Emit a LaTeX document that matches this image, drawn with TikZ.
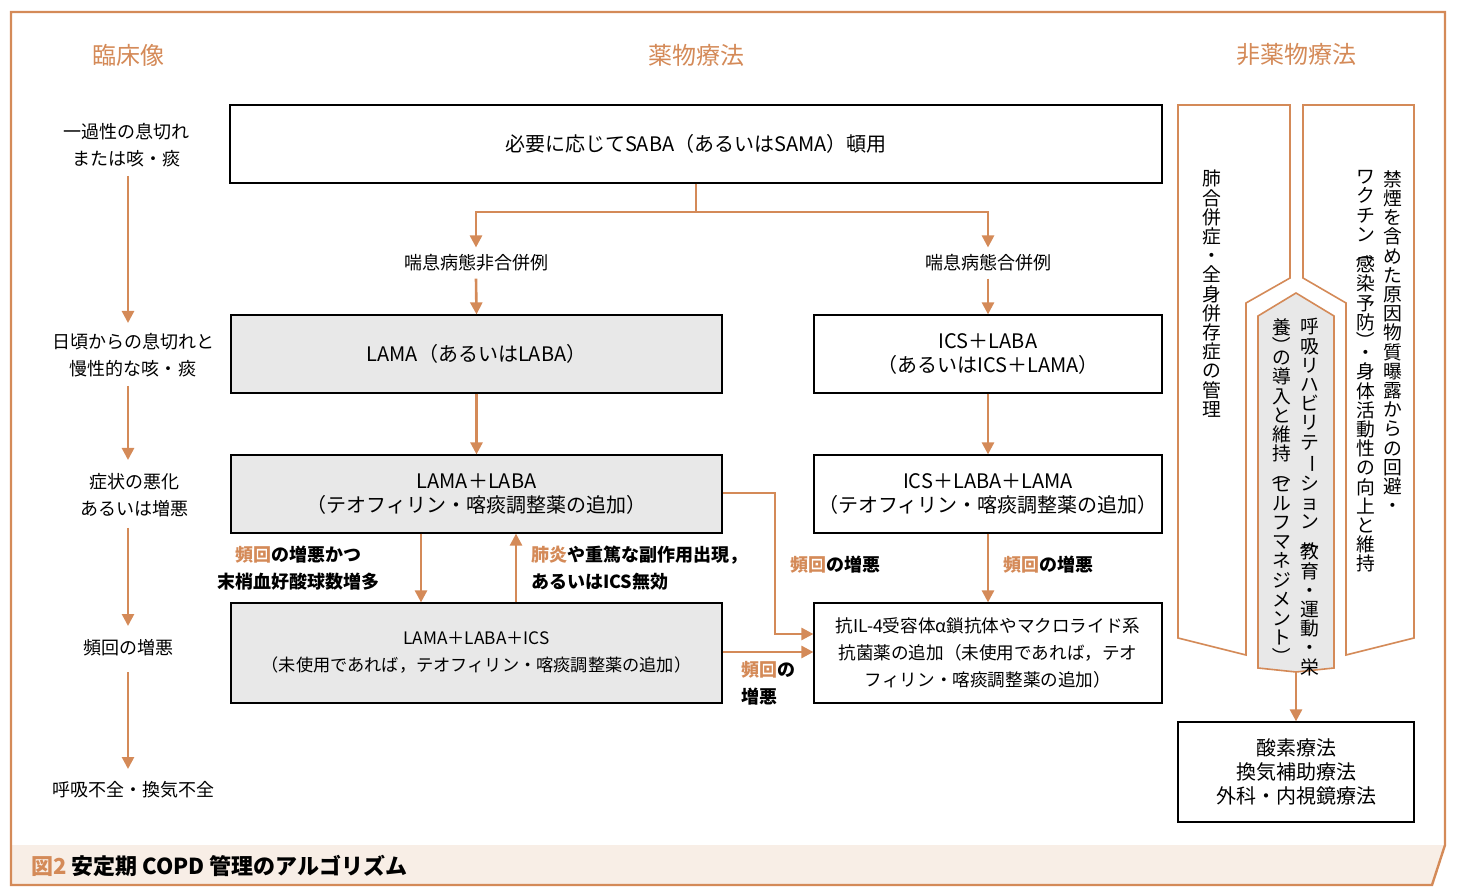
\documentclass[tikz,border=0pt]{standalone}
\usepackage{fontspec}
\setmainfont{Noto Sans CJK JP}
\usetikzlibrary{arrows.meta,positioning}
\definecolor{copdor}{RGB}{212,138,88}
\definecolor{copdgr}{RGB}{232,232,232}
\definecolor{copdbg}{RGB}{248,238,230}
\newcommand\vrot[1]{\rotatebox[origin=c]{-90}{#1}}
\tikzset{
  box/.style={draw=black,line width=0.6pt,align=center,inner sep=0pt},
  gbox/.style={box,fill=copdgr},
  flow/.style={draw=copdor,line width=1.3pt,-{Triangle[length=6pt,width=6pt]}},
  lbl/.style={align=center,font=\fontsize{9}{13.5}\selectfont},
  hot/.style={font=\bfseries\fontsize{9}{13.5}\selectfont,align=center},
  head/.style={text=copdor,font=\fontsize{12}{14}\selectfont},
  vtxt/.style={anchor=north,align=center,inner sep=0pt,font=\fontsize{9.4}{9.6}\selectfont},
}
\begin{document}
\begin{tikzpicture}[x=0.5pt,y=-0.5pt]
\useasboundingbox (0,0) rectangle (1461,892);
% frame and caption band
\fill[copdbg] (11,845) -- (1445,845) -- (1432,885) -- (11,885) -- cycle;
\draw[copdor,line width=1.2pt] (11,12) -- (1445,12) -- (1445,845) -- (1432,885) -- (11,885) -- cycle;
\node[anchor=west,font=\bfseries\fontsize{11}{13}\selectfont] (cap) at (24,866) {\textcolor{copdor}{図2} 安定期 COPD 管理のアルゴリズム};
% headings
\node[head] (h1) at (128,55) {臨床像};
\node[head] (h2) at (696,55) {薬物療法};
\node[head] (h3) at (1296,55) {非薬物療法};
% clinical column
\node[lbl] (c1) at (126,145) {一過性の息切れ\\または咳・痰};
\node[lbl] (c2) at (133,355) {日頃からの息切れと\\慢性的な咳・痰};
\node[lbl] (c3) at (134,495) {症状の悪化\\あるいは増悪};
\node[lbl] (c4) at (128,648) {頻回の増悪};
\node[lbl] (c5) at (133,790) {呼吸不全・換気不全};
\draw[flow] (128,176) -- (128,323);
\draw[flow] (128,386) -- (128,460);
\draw[flow] (128,528) -- (128,626);
\draw[flow] (128,672) -- (128,769);
% drug therapy boxes
\node[box,minimum width=466,minimum height=39] (saba) at (696,144) {必要に応じてSABA（あるいはSAMA）頓用};
\node[gbox,minimum width=245.5,minimum height=39] (lama) at (476.5,354) {LAMA（あるいはLABA）};
\node[box,minimum width=174,minimum height=39] (ics) at (988,354) {ICS＋LABA\\（あるいはICS＋LAMA）};
\node[gbox,minimum width=245.5,minimum height=39] (ll) at (476.5,494) {LAMA＋LABA\\（テオフィリン・喀痰調整薬の追加）};
\node[box,minimum width=174,minimum height=39] (ilt) at (988,494) {ICS＋LABA＋LAMA\\（テオフィリン・喀痰調整薬の追加）};
\node[gbox,minimum width=245.5,minimum height=50,font=\fontsize{8.6}{13.5}\selectfont] (lli) at (476.5,653) {LAMA＋LABA＋ICS\\（未使用であれば，テオフィリン・喀痰調整薬の追加）};
\node[box,minimum width=174,minimum height=50,font=\fontsize{8.8}{13.5}\selectfont] (il4) at (988,653) {抗IL-4受容体α鎖抗体やマクロライド系\\抗菌薬の追加（未使用であれば，テオ\\フィリン・喀痰調整薬の追加）};
\node[lbl] (ws1) at (476,263) {喘息病態非合併例};
\node[lbl] (ws2) at (988,263) {喘息病態合併例};
\coordinate (sp) at (696,212);
\draw[draw=copdor,line width=1.3pt] (saba.south) -- (sp);
\draw[flow] (sp) -| (ws1.north);
\draw[flow] (sp) -| (ws2.north);
\draw[flow] (ws1.south) -- (lama.north);
\draw[flow] (ws2.south) -- (ics.north);
\draw[flow] (lama) -- (ll);
\draw[flow] (ics) -- (ilt);
\draw[flow] (ll.south -| 421,0) -- (lli.north -| 421,0);
\draw[flow] (lli.north -| 516,0) -- (ll.south -| 516,0);
\draw[flow] (ll.east |- 0,493) -| (775,634) -- (il4.west |- 0,634);
\draw[flow] (ilt) -- (il4);
\draw[flow] (lli.east |- 0,652) -- (il4.west |- 0,652);
\node[hot] (t1) at (298,568) {\textcolor{copdor}{頻回}の増悪かつ\\末梢血好酸球数増多};
\node[hot,align=left,anchor=west] (t2) at (524,568) {\textcolor{copdor}{肺炎}や重篤な副作用出現，\\あるいはICS無効};
\node[hot,anchor=west] (t3) at (783,565) {\textcolor{copdor}{頻回}の増悪};
\node[hot,anchor=west] (t4) at (996,565) {\textcolor{copdor}{頻回}の増悪};
\node[hot,align=left,anchor=west] (t5) at (734,683) {\textcolor{copdor}{頻回}の\\増悪};
% non-drug therapy
\draw[copdor,line width=0.8pt,fill=white] (1178,105) -- (1290,105) -- (1290,278) -- (1246,303) -- (1246,655) -- (1178,638) -- cycle;
\draw[copdor,line width=0.8pt,fill=white] (1303,105) -- (1414,105) -- (1414,638) -- (1346,655) -- (1346,303) -- (1303,278) -- cycle;
\draw[copdor,line width=0.8pt,fill=copdgr] (1296,293) -- (1334,316) -- (1334,668) -- (1296,672) -- (1258,668) -- (1258,316) -- cycle;
\coordinate (gb) at (1296,672);
\node[vtxt] (v1) at (1212,170) {肺\\合\\併\\症\\・\\全\\身\\併\\存\\症\\の\\管\\理};
\node[vtxt] (v2a) at (1393,170) {禁\\煙\\を\\含\\め\\た\\原\\因\\物\\質\\曝\\露\\か\\ら\\の\\回\\避\\・};
\node[vtxt] (v2b) at (1366,170) {ワ\\ク\\チ\\ン\\\vrot{（}\\[-4pt]感\\染\\予\\防\\\vrot{）}\\[-4pt]・\\身\\体\\活\\動\\性\\の\\向\\上\\と\\維\\持};
\node[vtxt] (v3a) at (1310,318) {呼\\吸\\リ\\ハ\\ビ\\リ\\テ\\\vrot{ー}\\シ\\ョ\\ン\\\vrot{（}\\[-4pt]教\\育\\・\\運\\動\\・\\栄};
\node[vtxt] (v3b) at (1282,318) {養\\\vrot{）}\\[-4pt]の\\導\\入\\と\\維\\持\\\vrot{（}\\[-4pt]セ\\ル\\フ\\マ\\ネ\\ジ\\メ\\ン\\ト\\\vrot{）}};
\node[box,minimum width=118,minimum height=50] (oxy) at (1296,772) {酸素療法\\換気補助療法\\外科・内視鏡療法};
\draw[flow] (gb) -- (oxy.north);
\end{tikzpicture}
\end{document}
